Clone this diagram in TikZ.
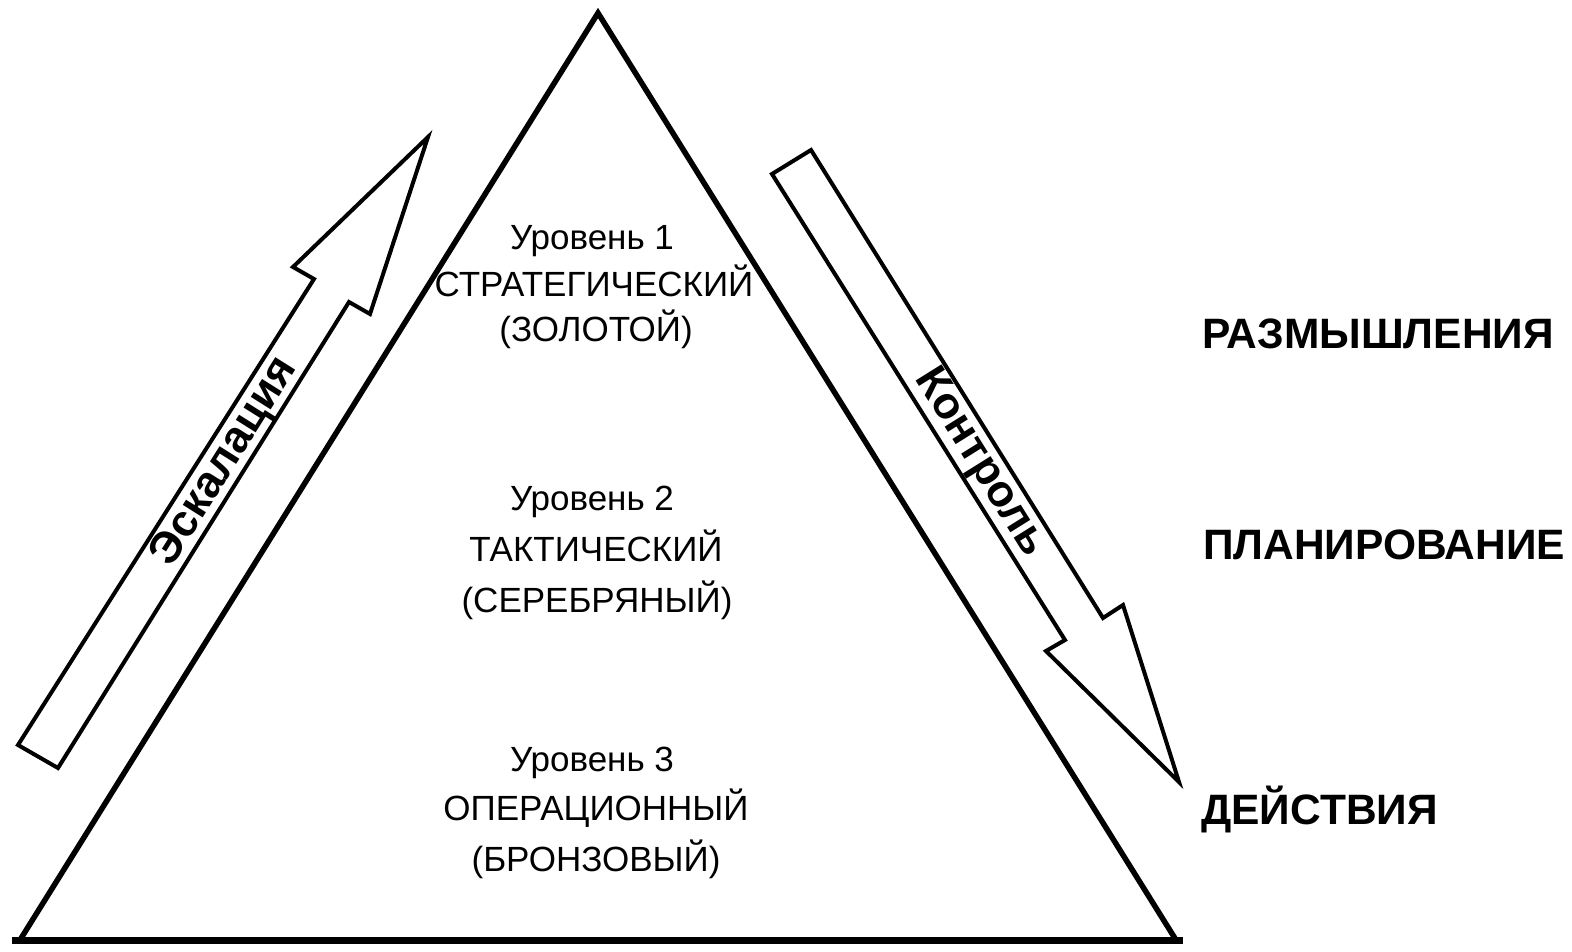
\documentclass[tikz,border=0pt]{standalone}
\usepackage{fontspec}
\setmainfont{Liberation Sans}
\begin{document}
\begin{tikzpicture}[x=1pt,y=-1pt,
  lvl/.style={font=\fontsize{35}{35}\selectfont, anchor=base, inner sep=0pt},
  sidelab/.style={font=\bfseries\fontsize{42.5}{42.5}\selectfont, anchor=base west, inner sep=0pt},
  bigarrow/.style={draw, line width=4pt, fill=white, line join=miter},
  arrowlab/.style={font=\bfseries\fontsize{44.5}{44.5}\selectfont, inner sep=0pt}]
\useasboundingbox[fill=white] (0,0) rectangle (1572,952);
% triangle
\coordinate (apex) at (598,13);
\coordinate (bl) at (20,940);
\coordinate (br) at (1176,940);
\coordinate (bl0) at (12,940);
\coordinate (br0) at (1183,940);
\draw[line width=5.5pt, line join=miter] (apex) -- (bl) -- (br) -- cycle;
\draw[line width=7pt] (bl0) -- (br0);
% escalation arrow
\draw[bigarrow] (428,137) -- (370,314) -- (349,302) -- (58,768) -- (18,745) -- (314,279) -- (293,267) -- cycle;
\node[arrowlab, rotate=57.8] (esc) at (225,462) {Эскалация};
% control arrow
\draw[bigarrow] (811,150) -- (1103,618) -- (1123,605) -- (1179,782) -- (1046,651) -- (1065,640) -- (772,174) -- cycle;
\node[arrowlab, rotate=-58] (ctl) at (980,463) {Контроль};
% levels
\node[lvl] (l1a) at (592,250) {Уровень 1};
\node[lvl] (l1b) at (594,296) {СТРАТЕГИЧЕСКИЙ};
\node[lvl] (l1c) at (596,341) {(ЗОЛОТОЙ)};
\node[lvl] (l2a) at (592,510) {Уровень 2};
\node[lvl] (l2b) at (596,561) {ТАКТИЧЕСКИЙ};
\node[lvl] (l2c) at (597,612) {(СЕРЕБРЯНЫЙ)};
\node[lvl] (l3a) at (592,771) {Уровень 3};
\node[lvl] (l3b) at (596,820) {ОПЕРАЦИОННЫЙ};
\node[lvl] (l3c) at (596,871) {(БРОНЗОВЫЙ)};
% side labels
\node[sidelab] (s1) at (1202,348) {РАЗМЫШЛЕНИЯ};
\node[sidelab] (s2) at (1203,559) {ПЛАНИРОВАНИЕ};
\node[sidelab] (s3) at (1201,824) {ДЕЙСТВИЯ};
\end{tikzpicture}
\end{document}
